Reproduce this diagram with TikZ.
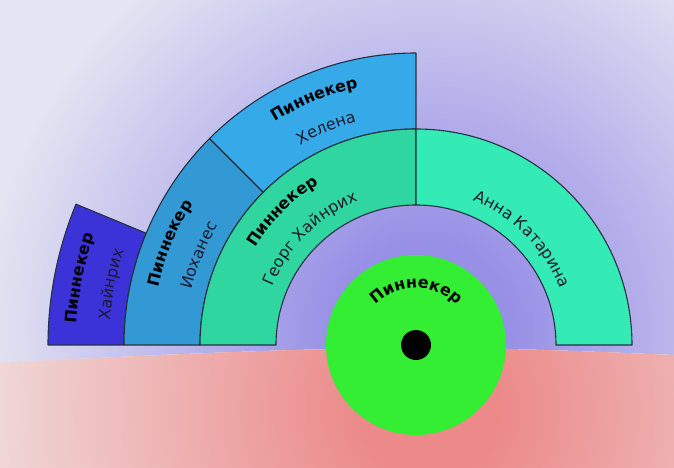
\documentclass[tikz,border=0pt]{standalone}
\usepackage{fontspec}
\setmainfont{DejaVu Sans}
\usetikzlibrary{decorations.text}
\definecolor{cHein}{HTML}{3B32D8}
\definecolor{cJoh}{HTML}{3399D4}
\definecolor{cHel}{HTML}{36A9E8}
\definecolor{cGeo}{HTML}{30D6A0}
\definecolor{cAnna}{HTML}{34EBB6}
\definecolor{cCirc}{HTML}{33EE33}
\definecolor{skyIn}{HTML}{9890E6}
\definecolor{skyOut}{HTML}{E4E4F2}
\definecolor{gndIn}{HTML}{EC8A8A}
\definecolor{gndOut}{HTML}{F0D8D8}
\definecolor{edgeC}{HTML}{263040}
\definecolor{txtC}{HTML}{1C1C2C}
\pgfdeclareradialshading{skyshade}{\pgfpoint{0bp}{0bp}}{color(0bp)=(skyIn); color(5bp)=(skyIn); color(25bp)=(skyOut); color(50bp)=(skyOut)}
\pgfdeclareradialshading{gndshade}{\pgfpoint{0bp}{0bp}}{color(0bp)=(gndIn); color(4bp)=(gndIn); color(25bp)=(gndOut); color(50bp)=(gndOut)}
\tikzset{
  seg/.style={draw=edgeC, line width=1.1pt, line join=round},
  boldlbl/.style={decorate, decoration={text along path, text align=center,
      text={|\fontsize{16}{19}\selectfont\bfseries\color{black}|#1}}},
  plainlbl/.style={decorate, decoration={text along path, text align=center,
      text={|\fontsize{16}{19}\selectfont\color{txtC}|#1}}}
}
\begin{document}
\begin{tikzpicture}[x=1pt,y=1pt]
\useasboundingbox (0,0) rectangle (674,468);
% background
\fill[skyOut] (0,0) rectangle (674,468);
\begin{scope}
  \clip (0,468) -- (0,105) .. controls (150,113) and (300,120) .. (420,120)
        .. controls (520,120) and (600,116) .. (674,113) -- (674,468) -- cycle;
  \shade[shading=skyshade] (425,140) circle (440);
\end{scope}
\begin{scope}
  \clip (0,0) -- (0,105) .. controls (150,113) and (300,120) .. (420,120)
        .. controls (520,120) and (600,116) .. (674,113) -- (674,0) -- cycle;
  \fill[gndOut] (0,0) rectangle (674,130);
  \shade[shading=gndshade] (430,58) circle (440);
\end{scope}
\begin{scope}[shift={(416,123)}]
  \coordinate (C) at (0,0);
  % segments
  \draw[seg, fill=cHein] (180:292pt) arc[start angle=180, end angle=157.5, radius=292pt]
      -- (157.5:368pt) arc[start angle=157.5, end angle=180, radius=368pt] -- cycle;
  \draw[seg, fill=cJoh] (180:216pt) arc[start angle=180, end angle=135, radius=216pt]
      -- (135:292pt) arc[start angle=135, end angle=180, radius=292pt] -- cycle;
  \draw[seg, fill=cHel] (135:216pt) arc[start angle=135, end angle=90, radius=216pt]
      -- (90:292pt) arc[start angle=90, end angle=135, radius=292pt] -- cycle;
  \draw[seg, fill=cGeo] (180:140pt) arc[start angle=180, end angle=90, radius=140pt]
      -- (90:216pt) arc[start angle=90, end angle=180, radius=216pt] -- cycle;
  \draw[seg, fill=cAnna] (90:140pt) arc[start angle=90, end angle=0, radius=140pt]
      -- (0:216pt) arc[start angle=0, end angle=90, radius=216pt] -- cycle;
  % centre
  \fill[cCirc] (C) circle (90pt);
  \fill[black] (C) circle (15pt);
  % labels
  \path[boldlbl={Пиннекер}] (195:340pt) arc[start angle=195, end angle=142.5, radius=340pt];
  \path[plainlbl={Хайнрих}] (195:307pt) arc[start angle=195, end angle=142.5, radius=307pt];
  \path[boldlbl={Пиннекер}] (190:264pt) arc[start angle=190, end angle=125, radius=264pt];
  \path[plainlbl={Иоханес}] (190:231pt) arc[start angle=190, end angle=125, radius=231pt];
  \path[boldlbl={Пиннекер}] (145:264pt) arc[start angle=145, end angle=80, radius=264pt];
  \path[plainlbl={Хелена}] (145:231pt) arc[start angle=145, end angle=80, radius=231pt];
  \path[boldlbl={Пиннекер}] (180:188pt) arc[start angle=180, end angle=90, radius=188pt];
  \path[plainlbl={Георг Хайнрих}] (180:155pt) arc[start angle=180, end angle=90, radius=155pt];
  \path[plainlbl={Анна Катарина}] (90:155pt) arc[start angle=90, end angle=0, radius=155pt];
  \path[boldlbl={Пиннекер}] (170:57pt) arc[start angle=170, end angle=10, radius=57pt];
\end{scope}
\end{tikzpicture}
\end{document}
